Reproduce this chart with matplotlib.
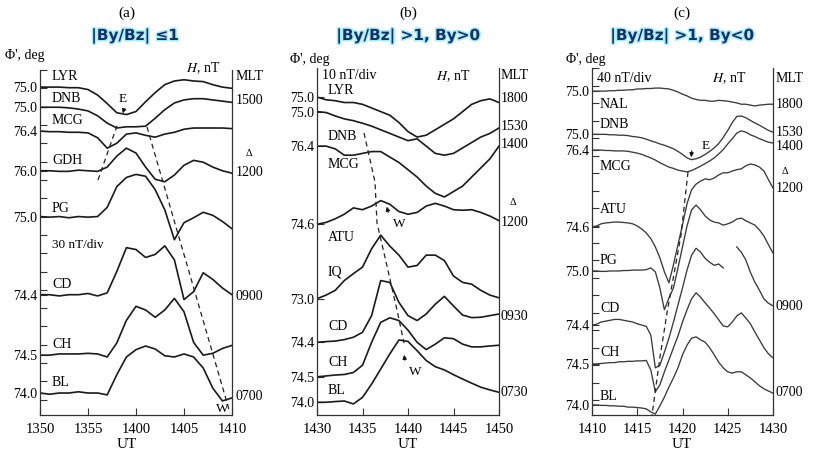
import matplotlib
matplotlib.use("Agg")
import matplotlib.pyplot as plt
import matplotlib.patheffects as pe
from matplotlib.ticker import MultipleLocator
import numpy as np

plt.rcParams["mathtext.fontset"] = "stix"

# ---------------- data ----------------
# H deviation (nT) from the value at the start of each interval
minutes_ab = np.arange(0, 21)          # 1-min samples
minutes_c = np.arange(0, 20.5, 0.5)    # 0.5-min samples

ut_a = ["1350", "1355", "1400", "1405", "1410"]
ut_b = ["1430", "1435", "1440", "1445", "1450"]
ut_c = ["1410", "1415", "1420", "1425", "1430"]

stations_a = ["LYR", "DNB", "MCG", "GDH", "PG", "CD", "CH", "BL"]
lat_a = ["75.0", "75.0", "76.4", "76.0", "75.0", "74.4", "74.5", "74.0"]
lyr_a = [0, 0, 0, -1, -1, -4, -13, -27, -42, -45, -40, -24, -9, 4, 10, 12, 10, 9, 4, 0, -2]
dnb_a = [0, 0, 0, -1, -3, -6, -14, -26, -34, -32, -32, -31, -18, -4, 7, 12, 14, 14, 12, 10, 8]
mcg_a = [0, -1, -1, -2, -2, -3, -11, -28, -20, -5, -3, -7, -10, -5, -2, 3, 5, 5, 5, 5, 4]
gdh_a = [0, 0, -1, -1, 1, 0, -1, 6, 24, 37, 29, 6, -14, -18, -7, 9, 17, 14, 6, 0, -4]
pg_a = [0, -1, 0, -2, 0, -1, 0, 15, 49, 64, 69, 66, 44, 11, -38, -10, -2, 7, 2, -8, -20]
cd_a = [0, 0, -2, 0, 0, 2, -2, 3, 38, 77, 74, 61, 66, 80, 57, -8, 5, 36, 25, 11, 0]
ch_a = [0, 0, 2, 2, 2, 3, 2, -3, 20, 57, 80, 74, 62, 74, 93, 71, 21, 0, 3, 11, 16]
bl_a = [0, -2, 0, 0, 2, 0, 0, -3, 30, 59, 71, 77, 72, 61, 59, 64, 59, 41, 8, -13, -8]
mlt_a = ["1500", "1200", "0900", "0700"]

stations_b = ["LYR", "DNB", "MCG", "ATU", "IQ", "CD", "CH", "BL"]
lat_b = ["75.0", "75.0", "76.4", "74.6", "73.0", "74.4", "74.5", "74.0"]
lyr_b = [0, -1.5, -2, -3, -3, -4, -6, -8, -10, -14, -19, -22, -21, -18, -15, -12, -8, -4, -2, -1, -3]
dnb_b = [0, -0.5, -2.4, -4, -5, -6.4, -8, -10, -12, -14, -16, -15, -19, -23, -24, -23, -20, -17, -14, -12, -9]
mcg_b = [0, 0, -1.5, -5, -5, -4, -3, -3, -6, -9, -13, -17, -22, -26, -28, -25, -22, -17, -12, -7, 0]
atu_b = [0, 1, 3, 5.5, 9, 8, 10, 13, 11, 7, 5.5, 6.5, 10, 11.5, 10, 8, 7.7, 8, 6.5, 4.5, 2]
iq_b = [0, 2, 4.6, 10, 13.8, 17.4, 27.5, 35, 29, 24, 17.4, 18.3, 24, 24, 21, 12.5, 9, 8, 4.6, 2, 0.5]
cd_b = [0, 0.4, 0.7, 1.5, 2.8, 5.5, 14.7, 34, 33, 22, 14.7, 12, 15.6, 21, 25.3, 20, 15, 13.6, 13.8, 14.7, 15.6]
ch_b = [0, 0.5, 1, 1.3, 2.4, 6.4, 19, 30, 32.5, 31, 25.7, 19, 15, 18, 21.5, 21, 18, 16.5, 16.5, 17, 17.4]
bl_b = [0, 0, 0.4, 0.7, -0.9, 2.7, 10, 18.3, 26.6, 34.3, 33.5, 28.4, 23, 19.6, 17.8, 15.2, 12.8, 10.5, 8.3, 6.8, 5.5]
mlt_b = ["1800", "1530", "1400", "1200", "0930", "0730"]

stations_c = ["NAL", "DNB", "MCG", "ATU", "PG", "CD", "CH", "BL"]
lat_c = ["75.0", "75.0", "76.4", "74.6", "75.0", "74.4", "74.5", "74.0"]
nal_c = [0, 0, 0, 0, 1, 1, 2, 2, 3, 3, 5, 5, 6, 6, 7, 7, 6, 5, 2, -2, -7, -11, -16, -19, -21, -21,
         -23, -23, -21, -22, -23, -25, -27, -30, -30, -32, -34, -32, -31, -30, -30]
dnb_c = [0, 0, 0, 0, -1, -1, -2, -2, -3, -5, -6, -8, -11, -15, -18, -22, -25, -29, -33, -39, -46,
         -54, -58, -56, -52, -46, -39, -31, -21, -7, 9, 27, 41, 42, 38, 32, 26, 21, 15, 9, 5]
mcg_c = [0, 0, 0, -1, -1, -2, -2, -2, -3, -5, -7, -10, -14, -18, -23, -29, -34, -39, -42, -46, -48,
         -50, -47, -42, -37, -31, -25, -18, -9, 1, 14, 26, 39, 44, 41, 35, 31, 26, 22, 18, 16]
atu_c = [0, 2, 7, 9, 10, 11, 11, 10, 9, 7, 2, -5, -14, -27, -46, -71, -103, -128, -87, -41, 5,
         53, 85, 98, 105, 110, 108, 112, 119, 124, 124, 128, 131, 133, 140, 144, 142, 137, 128, 108, 89]
pg_c = [0, 0, -1, -1, 0, 0, 0, 1, 1, 2, 2, 2, 3, 7, -2, -39, -89, -62, -39, 7, 55,
        103, 140, 151, 140, 126, 117, 112, 110, 105, 108, 112, 119, 121, 115, 110, 105, 94, 80, 60, 41]
cd_c = [0, 2, 7, 9, 11, 13, 13, 11, 9, 7, 3, 0, -3, -23, -98, -92, -62, -30, 7, 46, 85,
        126, 160, 176, 167, 153, 144, 137, 140, 131, np.nan, np.nan, 179, 167, 149, 121, 98, 80, 60, 50, 44]
ch_c = [0, 0, 1, 2, 3, 3, 5, 5, 6, 6, 7, 7, 8, -14, -64, -48, -18, 9, 37, 64, 96,
        124, 149, 163, 153, 140, 128, 115, 101, 87, 85, 96, 110, 117, 105, 92, 73, 55, 37, 23, 14]
bl_c = [0, 0, -1, -1, -2, -2, -3, -3, -5, -5, -6, -7, -9, -16, -21, -2, 18, 41, 62, 85, 115,
        137, 153, 156, 149, 144, 131, 115, 98, 85, 76, 73, 76, 76, 69, 62, 53, 44, 37, 32, 27]
mlt_c = ["1800", "1530", "1400", "1200", "0900", "0700"]

# ---------------- layout ----------------
W, H = 818, 457
SERIF = "Liberation Serif"
TITLE_COLOR = "#17306b"


def P(x, y):
    return x / W, 1 - y / H


def ftext(x, y, s, size=9.5, ha="left", **kw):
    fig.text(*P(x, y), s, fontsize=size, ha=ha, va="center", family=SERIF, **kw)


def dashed(pts):
    xs = [P(x, y)[0] for x, y in pts]
    ys = [P(x, y)[1] for x, y in pts]
    fig.add_artist(plt.Line2D(xs, ys, ls=(0, (4, 3)), lw=0.9, color="#222"))


def arrow(x0, y0, x1, y1):
    fig.add_artist(matplotlib.patches.FancyArrowPatch(
        P(x0, y0), P(x1, y1), transform=fig.transFigure,
        arrowstyle="-|>", mutation_scale=6, lw=0.8, color="#111"))


def panel(rect, t, series, offsets, lats, ylim, div, ticks, lw, color):
    l, r, top, bot = rect
    ax = fig.add_axes([l / W, (H - bot) / H, (r - l) / W, (bot - top) / H])
    for off, s in zip(offsets, series):
        ax.plot(t, off + np.asarray(s, dtype=float), color=color, lw=lw)
    ax.set_xlim(0, 20)
    ax.set_ylim(*ylim)
    ax.set_xticks([0, 5, 10, 15, 20], ticks, family=SERIF, fontsize=10.5)
    ax.set_yticks(offsets, lats, family=SERIF, fontsize=10)
    if div:
        ax.yaxis.set_minor_locator(MultipleLocator(div))
    ax.tick_params(axis="both", which="both", direction="in", length=5, width=0.8, color="#333")
    ax.tick_params(axis="y", pad=2)
    ax.tick_params(axis="x", pad=6)
    ax.spines["top"].set_visible(False)
    for sp in ("left", "right", "bottom"):
        ax.spines[sp].set_linewidth(0.9)
        ax.spines[sp].set_color("#333")
    return ax


fig = plt.figure(figsize=(W / 100, H / 100), dpi=100)

# stack offsets (nT) of each station trace
offs_a = [512, 479, 440, 375, 300, 172, 73, 11]
offs_b = [175, 167, 148, 105, 64, 40, 21, 7]
offs_c = [708, 609, 573, 397, 296, 172, 83, -11]

panel((40, 232, 70, 415), minutes_ab,
      [lyr_a, dnb_a, mcg_a, gdh_a, pg_a, cd_a, ch_a, bl_a],
      offs_a, lat_a, (-25, 540), 30, ut_a, 1.2, "#1a1a1a")
panel((317, 499, 68, 415), minutes_ab,
      [lyr_b, dnb_b, mcg_b, atu_b, iq_b, cd_b, ch_b, bl_b],
      offs_b, lat_b, (0, 191), None, ut_b, 1.2, "#1a1a1a")
panel((592, 773, 68, 415), minutes_c,
      [nal_c, dnb_c, mcg_c, atu_c, pg_c, cd_c, ch_c, bl_c],
      offs_c, lat_c, (-34, 761), 40, ut_c, 0.95, "#3a3a3a")

# headers
for cx, tag, title in [(127, "(a)", "|By/Bz| \u22641"),
                       (408, "(b)", "|By/Bz| >1, By>0"),
                       (682, "(c)", "|By/Bz| >1, By<0")]:
    ftext(cx, 13, tag, size=11, ha="center")
    fig.text(*P(cx + 8 if tag == "(a)" else cx, 36), title, ha="center", va="center",
             fontsize=11, fontweight="bold", family="DejaVu Sans", color=TITLE_COLOR,
             path_effects=[pe.withStroke(linewidth=2.2, foreground="#a6eef5")])
    ftext(cx, 445, "UT", size=11, ha="center")

# panel (a) texts
ftext(5, 55, "\u03a6', deg", size=10)
ftext(186, 68, r"$H$, nT", size=10)
ftext(236, 77, "MLT", size=10)
for name, y in zip(stations_a, [77, 98, 121, 160, 209, 284, 344, 383]):
    ftext(52, y, name, size=10)
ftext(52, 245, "30 nT/div", size=9.5)
for s, y in zip(mlt_a, [100, 172, 296, 397]):
    ftext(236, y, s, size=10)
ftext(249, 153, "\u0394", size=7.5, ha="center")
ftext(123, 99, "E", size=9.5, ha="center")
arrow(125, 106, 122, 116)
ftext(222, 409, "W", size=9.5, ha="center")
dashed([(98, 180), (118, 123)])
dashed([(147, 127), (230, 413)])

# panel (b) texts
ftext(290, 60, "\u03a6', deg", size=10)
ftext(322, 76, "10 nT/div", size=10)
ftext(436, 76, r"$H$, nT", size=10)
ftext(501, 76, "MLT", size=10)
for name, y in zip(stations_b, [90, 136, 165, 237, 272, 327, 363, 391]):
    ftext(328, y, name, size=10)
for s, y in zip(mlt_b, [98, 126, 144, 222, 316, 392]):
    ftext(501, y, s, size=10)
ftext(513, 203, "\u0394", size=7.5, ha="center")
dashed([(364, 133), (375, 182), (377, 223), (384, 253), (397, 310), (404, 343)])
ftext(399, 224, "W", size=9.5, ha="center")
arrow(389, 215, 386, 204)
ftext(415, 372, "W", size=9.5, ha="center")
arrow(405, 363, 404, 352)

# panel (c) texts
ftext(566, 60, "\u03a6', deg", size=10)
ftext(597, 78, "40 nT/div", size=10)
ftext(712, 78, r"$H$, nT", size=10)
ftext(776, 78, "MLT", size=10)
for name, y in zip(stations_c, [104, 124, 166, 210, 260, 308, 352, 397]):
    ftext(600, y, name, size=10)
for s, y in zip(mlt_c, [104, 132, 146, 188, 307, 392]):
    ftext(776, y, s, size=10)
ftext(785, 172, "\u0394", size=7.5, ha="center")
ftext(706, 146, "E", size=9.5, ha="center")
arrow(692, 148, 691, 160)
dashed([(688, 172), (681, 235), (667, 313), (660, 357), (652, 415)])

fig.savefig("out.png", dpi=100, facecolor="white")
